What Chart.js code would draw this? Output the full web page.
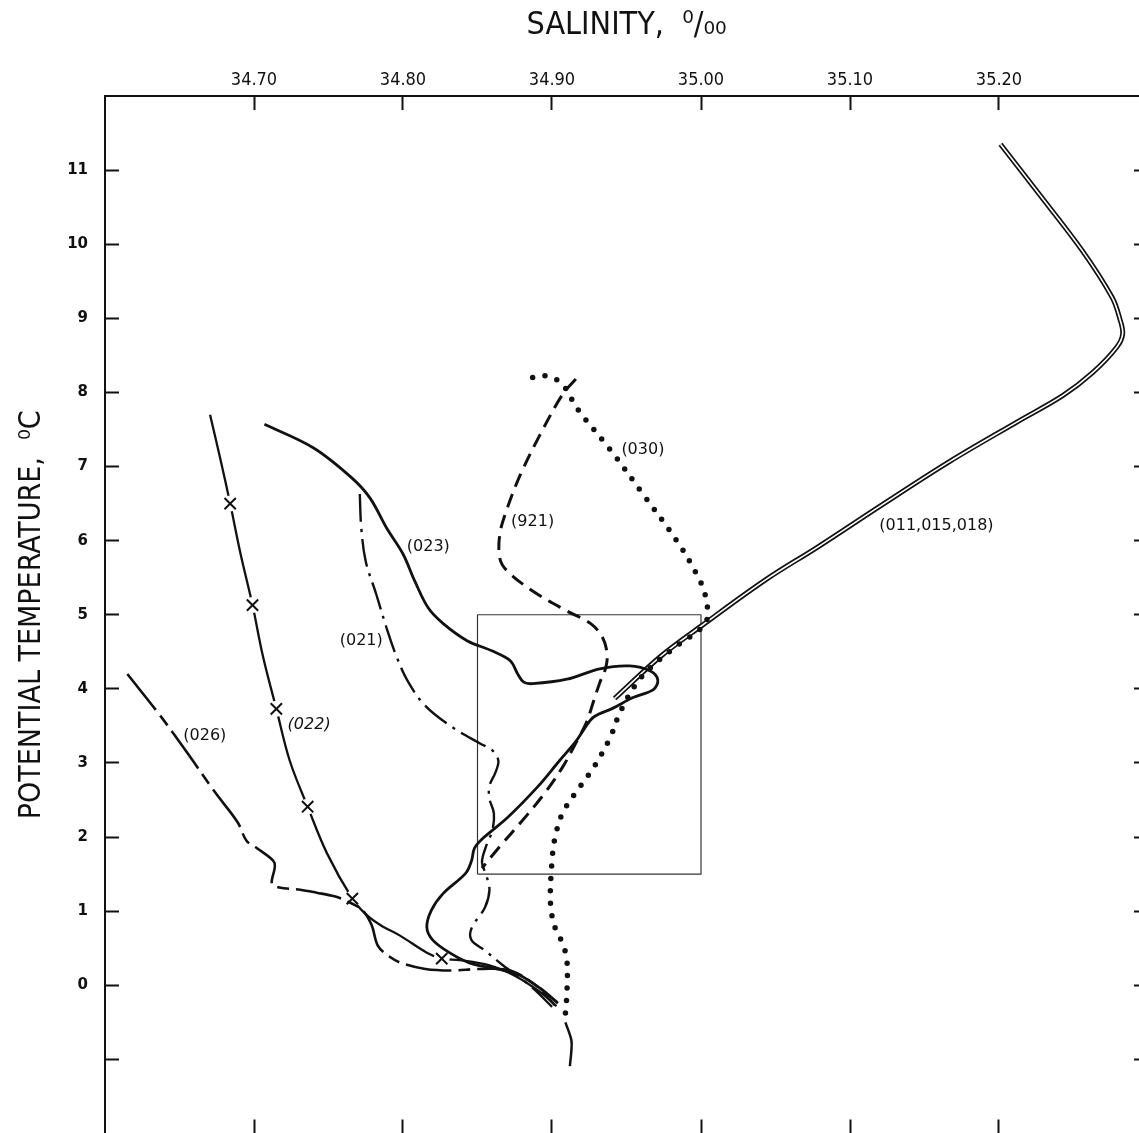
<!DOCTYPE html>
<html>
<head>
<meta charset="utf-8">
<title>Potential temperature vs salinity</title>
<script src="https://cdn.jsdelivr.net/npm/chart.js@4.4.1/dist/chart.umd.min.js"></script>
<style>
  html, body { margin: 0; padding: 0; background: #fff; overflow: hidden; }
  #wrap { position: absolute; left: 0; top: 0; width: 1160px; height: 1150px; }
</style>
</head>
<body>
<div id="wrap"><canvas id="tsChart"></canvas></div>
<script>
// axis labels
const salinityLabels = [34.70, 34.80, 34.90, 35.00, 35.10, 35.20];
const tempLabels = [0, 1, 2, 3, 4, 5, 6, 7, 8, 9, 10, 11];

// stations 011, 015, 018 (profiles coincide)
const sal011 = [35.201, 35.226, 35.256, 35.276, 35.281, 35.283, 35.279, 35.263, 35.243, 35.212, 35.167, 35.122, 35.078, 35.044, 35.001, 34.973, 34.942];
const tmp011 = [11.35, 10.70, 9.91, 9.28, 9.00, 8.79, 8.61, 8.27, 7.96, 7.60, 7.07, 6.49, 5.91, 5.48, 4.86, 4.44, 3.87];

// station 030 (dotted), plus its deepest bit drawn solid
const sal030 = [34.887, 34.897, 34.907, 34.917, 34.939, 34.961, 34.984, 34.997, 35.003, 35.003, 34.981, 34.960, 34.946, 34.939, 34.928, 34.917, 34.907, 34.902, 34.900, 34.899, 34.902, 34.907, 34.910, 34.910, 34.909];
const tmp030 = [8.20, 8.22, 8.11, 7.78, 7.23, 6.63, 5.99, 5.55, 5.25, 4.89, 4.54, 4.16, 3.70, 3.34, 2.94, 2.63, 2.32, 1.99, 1.68, 1.10, 0.78, 0.57, 0.34, -0.11, -0.38];
const sal030deep = [34.909, 34.913, 34.913, 34.912];
const tmp030deep = [-0.50, -0.74, -0.88, -1.09];

// station 921 (dashed)
const sal921 = [34.916, 34.907, 34.892, 34.879, 34.870, 34.865, 34.865, 34.870, 34.887, 34.910, 34.926, 34.934, 34.937, 34.936, 34.932, 34.928, 34.923, 34.916, 34.907, 34.895, 34.880, 34.864, 34.853];
const tmp921 = [8.18, 7.97, 7.43, 6.90, 6.44, 6.09, 5.76, 5.59, 5.32, 5.05, 4.88, 4.69, 4.47, 4.28, 4.08, 3.84, 3.54, 3.27, 2.94, 2.59, 2.22, 1.85, 1.58];

// station 023 (solid)
const sal023 = [34.707, 34.740, 34.766, 34.778, 34.789, 34.800, 34.808, 34.817, 34.827, 34.843, 34.860, 34.872, 34.877, 34.881, 34.887, 34.910, 34.932, 34.952, 34.966, 34.971, 34.968, 34.954, 34.941, 34.928, 34.922, 34.916, 34.905, 34.890, 34.870, 34.854, 34.848, 34.846, 34.842, 34.827, 34.819, 34.816, 34.820, 34.832, 34.845, 34.863, 34.877, 34.892, 34.904];
const tmp023 = [7.57, 7.25, 6.84, 6.57, 6.17, 5.82, 5.45, 5.09, 4.88, 4.65, 4.51, 4.38, 4.20, 4.09, 4.07, 4.13, 4.27, 4.31, 4.24, 4.12, 3.99, 3.88, 3.74, 3.62, 3.47, 3.29, 3.03, 2.67, 2.26, 1.99, 1.85, 1.68, 1.51, 1.24, 1.01, 0.78, 0.61, 0.43, 0.30, 0.22, 0.15, -0.04, -0.24];

// station 021 (dash-dot)
const sal021 = [34.771, 34.772, 34.775, 34.782, 34.789, 34.795, 34.803, 34.815, 34.834, 34.852, 34.860, 34.864, 34.862, 34.858, 34.858, 34.861, 34.860, 34.856, 34.853, 34.856, 34.858, 34.855, 34.846, 34.846, 34.855, 34.867, 34.885, 34.901];
const tmp021 = [6.63, 6.17, 5.72, 5.28, 4.82, 4.47, 4.11, 3.77, 3.47, 3.26, 3.17, 3.03, 2.87, 2.69, 2.52, 2.32, 2.09, 1.89, 1.66, 1.48, 1.28, 1.05, 0.77, 0.61, 0.47, 0.27, 0.00, -0.31];

// station 022 (long dash with crosses)
const sal022 = [34.6705, 34.677, 34.684, 34.691, 34.699, 34.706, 34.715, 34.724, 34.736, 34.749, 34.766, 34.775, 34.785, 34.798, 34.816, 34.826, 34.838, 34.858, 34.875, 34.892, 34.903];
const tmp022 = [7.70, 7.14, 6.50, 5.82, 5.13, 4.44, 3.73, 3.03, 2.41, 1.78, 1.17, 0.96, 0.81, 0.67, 0.44, 0.36, 0.34, 0.27, 0.13, -0.09, -0.28];
const salMark022 = [34.684, 34.699, 34.715, 34.736, 34.766, 34.826];
const tmpMark022 = [6.50, 5.13, 3.73, 2.41, 1.17, 0.36];

// station 026 (dash-dot-dash)
const sal026 = [34.615, 34.637, 34.654, 34.674, 34.689, 34.695, 34.702, 34.713, 34.714, 34.712, 34.717, 34.731, 34.742, 34.754, 34.764, 34.773, 34.779, 34.783, 34.790, 34.799, 34.815, 34.832, 34.852, 34.872, 34.889, 34.902];
const tmp026 = [4.20, 3.64, 3.17, 2.60, 2.20, 1.95, 1.85, 1.68, 1.60, 1.37, 1.32, 1.29, 1.25, 1.20, 1.12, 1.01, 0.81, 0.54, 0.40, 0.30, 0.22, 0.20, 0.22, 0.20, 0.00, -0.27];

// inset frame
const salBox = [34.85, 34.85, 35.00, 35.00, 34.85];
const tmpBox = [1.5, 5.0, 5.0, 1.5, 1.5];

// station labels
const curveLabels = [
  { text: '(011,015,018)', s: 35.158, t: 6.20 },
  { text: '(030)', s: 34.961, t: 7.22 },
  { text: '(921)', s: 34.887, t: 6.25 },
  { text: '(023)', s: 34.817, t: 5.91 },
  { text: '(021)', s: 34.772, t: 4.65 },
  { text: '(022)', s: 34.737, t: 3.51, italic: true },
  { text: '(026)', s: 34.667, t: 3.37 }
];

const pts = (s, t) => s.map((v, i) => ({ x: v, y: t[i] }));

const INK = '#111';
const condFont = '"DejaVu Sans Condensed", "DejaVu Sans", sans-serif';
const plainFont = '"DejaVu Sans", sans-serif';

const labelPlugin = {
  id: 'curveLabels',
  afterDatasetsDraw(chart) {
    const { ctx, scales: { x, y } } = chart;
    ctx.save();
    ctx.fillStyle = INK;
    ctx.textAlign = 'center';
    ctx.textBaseline = 'middle';
    curveLabels.forEach(l => {
      ctx.font = (l.italic ? 'italic ' : '') + '16px ' + plainFont;
      ctx.fillText(l.text, x.getPixelForValue(l.s), y.getPixelForValue(l.t));
    });
    ctx.restore();
  }
};

const W = 1160, H = 1150;
const PLOT = { left: 105, top: 96, right: 1148, bottom: 1133.5 };

// pin each axis box to a fixed size and drop the label overhang padding
const fixBox = size => s => {
  if (s.isHorizontal()) s.height = size; else s.width = size;
  s.paddingLeft = s.paddingRight = s.paddingTop = s.paddingBottom = 0;
};

// inward tick marks; the ones sitting on the frame corners are left out
const tickGrid = {
  drawOnChartArea: false, tickLength: -14, tickWidth: 2,
  tickColor: c => {
    const sc = c.scale, v = c.tick ? c.tick.value : null;
    return (v !== null && (Math.abs(v - sc.min) < 1e-6 || Math.abs(v - sc.max) < 1e-6)) ? 'rgba(0,0,0,0)' : INK;
  }
};

const ctx = document.getElementById('tsChart').getContext('2d');
new Chart(ctx, {
  type: 'scatter',
  data: {
    datasets: [
      { label: '022 crosses', data: pts(salMark022, tmpMark022), showLine: false,
        pointStyle: 'crossRot', pointRadius: 8, pointBorderWidth: 2, pointBorderColor: INK, order: 1 },
      { label: '022 gaps', data: pts(salMark022, tmpMark022), showLine: false,
        pointStyle: 'circle', pointRadius: 8, pointBorderWidth: 0, pointBackgroundColor: '#fff', order: 6 },
      { label: '022', data: pts(sal022, tmp022), borderWidth: 2.3, order: 7 },
      { label: '026', data: pts(sal026, tmp026), borderWidth: 2.6, borderDash: [46, 7, 12, 7], order: 5 },
      { label: '021', data: pts(sal021, tmp021), borderWidth: 2.4, borderDash: [28, 7, 3, 7], order: 5 },
      { label: '023', data: pts(sal023, tmp023), borderWidth: 2.8, order: 5 },
      { label: '921', data: pts(sal921, tmp921), borderWidth: 3, borderDash: [14, 8], order: 5 },
      { label: '030', data: pts(sal030, tmp030), borderWidth: 5.5, borderDash: [0, 12.5], borderCapStyle: 'round', order: 5 },
      { label: '030 deep', data: pts(sal030deep, tmp030deep), borderWidth: 2.5, order: 5 },
      { label: '011 inner', data: pts(sal011, tmp011), borderWidth: 1.6, borderColor: '#fff', order: 8 },
      { label: '011', data: pts(sal011, tmp011), borderWidth: 5, order: 9 },
      { label: 'frame', data: pts(salBox, tmpBox), borderWidth: 1.2, borderColor: '#333', tension: 0, order: 10 }
    ]
  },
  options: {
    responsive: true,
    maintainAspectRatio: false,
    animation: false,
    events: [],
    layout: { padding: 0 },
    datasets: {
      scatter: {
        showLine: true, pointRadius: 0, pointHoverRadius: 0,
        borderColor: INK, fill: false, tension: 0.35, borderJoinStyle: 'round'
      }
    },
    plugins: { legend: { display: false }, tooltip: { enabled: false } },
    scales: {
      x: {
        type: 'linear', position: 'top', min: 34.60, max: 35.30,
        afterFit: fixBox(PLOT.top),
        ticks: {
          stepSize: 0.1, autoSkip: false, maxRotation: 0, padding: 19, color: INK,
          font: { family: condFont, size: 18 },
          callback: v => {
            const k = salinityLabels.find(s => Math.abs(s - v) < 1e-6);
            return k !== undefined ? k.toFixed(2) : '';
          }
        },
        grid: tickGrid,
        border: { color: INK, width: 2 },
        title: { display: true, text: 'SALINITY,  \u2070/\u2080\u2080', color: INK,
          font: { family: condFont, size: 32 }, padding: { top: 6, bottom: 0 } }
      },
      x2: {
        type: 'linear', axis: 'x', position: 'bottom', min: 34.60, max: 35.30,
        afterFit: fixBox(H - PLOT.bottom),
        ticks: { stepSize: 0.1, display: false },
        grid: tickGrid,
        border: { display: false }
      },
      y: {
        type: 'linear', position: 'left', min: -2, max: 12,
        afterFit: fixBox(PLOT.left),
        ticks: {
          stepSize: 1, autoSkip: false, padding: 31, color: INK,
          font: { family: plainFont, size: 15, weight: 'bold' },
          callback: v => tempLabels.includes(v) ? String(v) : ''
        },
        grid: tickGrid,
        border: { color: INK, width: 2 },
        title: { display: true, text: 'POTENTIAL TEMPERATURE,  \u2070C', color: INK,
          font: { family: condFont, size: 30 }, padding: { top: 14, bottom: 0 } }
      },
      y2: {
        type: 'linear', axis: 'y', position: 'right', min: -2, max: 12,
        afterFit: fixBox(W - PLOT.right),
        ticks: { stepSize: 1, display: false },
        grid: tickGrid,
        border: { color: INK, width: 2 }
      }
    }
  },
  plugins: [labelPlugin]
});
</script>
</body>
</html>
